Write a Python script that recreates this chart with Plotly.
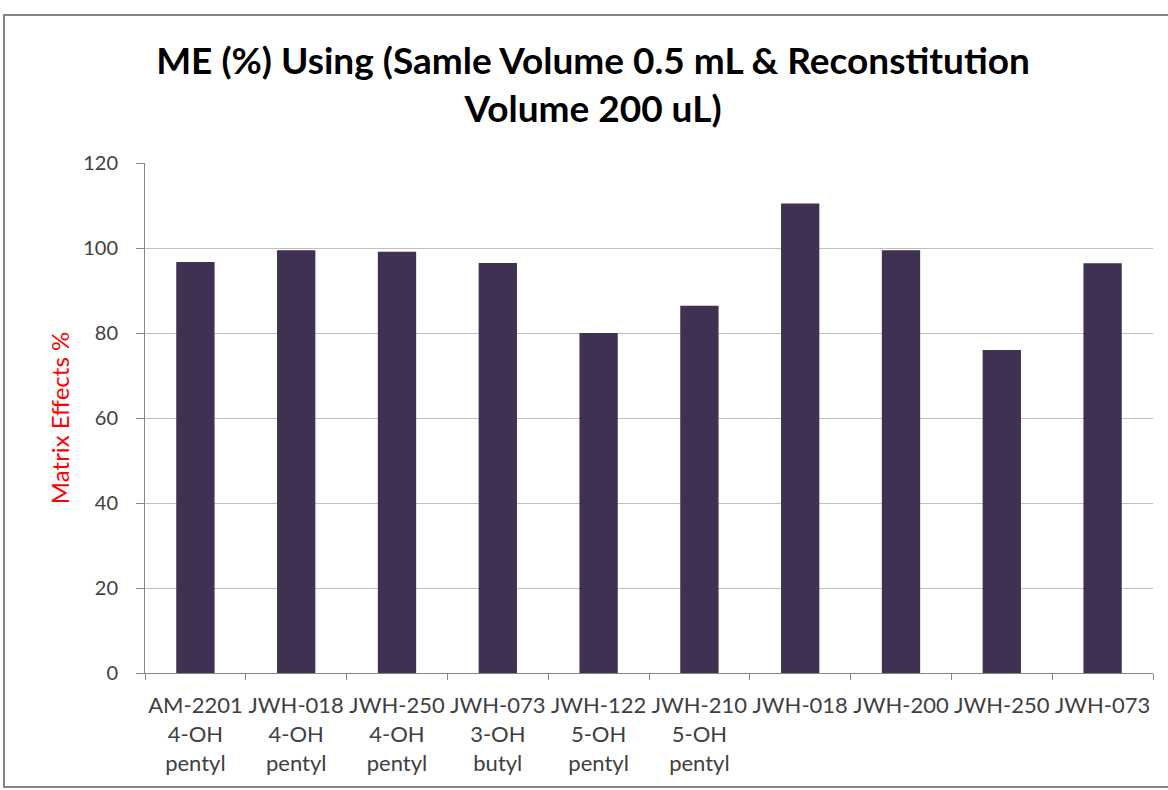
import plotly.graph_objects as go

# Matrix effects (%) per analyte
categories = [
    "AM-2201<br>4-OH<br>pentyl",
    "JWH-018<br>4-OH<br>pentyl",
    "JWH-250<br>4-OH<br>pentyl",
    "JWH-073<br>3-OH<br>butyl",
    "JWH-122<br>5-OH<br>pentyl",
    "JWH-210<br>5-OH<br>pentyl",
    "JWH-018",
    "JWH-200",
    "JWH-250",
    "JWH-073",
]
matrix_effects = [96.7, 99.5, 99.1, 96.5, 80.0, 86.4, 110.5, 99.5, 76.0, 96.4]
y_ticks = [0, 20, 40, 60, 80, 100, 120]

W, H = 1168, 790
L, R, T, B = 145, 15, 163, 117
pw, ph = W - L - R, H - T - B

def px_x(x):
    return (x - L) / pw

def px_y(y):
    return (H - B - y) / ph

FONT = "Lato"

fig = go.Figure(
    go.Bar(
        x=categories,
        y=matrix_effects,
        marker=dict(color="#3f3151", line=dict(width=0)),
    )
)

fig.update_layout(
    width=W,
    height=H,
    margin=dict(l=L, r=R, t=T, b=B),
    paper_bgcolor="white",
    plot_bgcolor="white",
    bargap=0.62,
    showlegend=False,
    font=dict(family=FONT, color="#404040"),
    title=dict(
        text="<b>ME (%) Using (Samle Volume 0.5 mL &amp; Reconstitution<br>Volume 200 uL)</b>",
        x=(593 / W),
        xanchor="center",
        y=1 - 74 / H,
        yanchor="top",
        font=dict(family=FONT, size=37, color="black"),
    ),
    shapes=[
        dict(
            type="rect", xref="paper", yref="paper",
            x0=px_x(4), x1=px_x(1175), y0=px_y(787), y1=px_y(15),
            line=dict(color="#868686", width=2), fillcolor="rgba(0,0,0,0)",
            layer="below",
        ),
    ],
)

fig.update_xaxes(
    type="category",
    showline=True,
    linecolor="#868686",
    linewidth=1,
    ticks="outside",
    tickson="boundaries",
    ticklen=6,
    tickcolor="#868686",
    ticklabelstandoff=13,
    tickfont=dict(family=FONT, size=22, color="#404040"),
    showgrid=False,
    tickangle=0,
)

fig.update_yaxes(
    range=[0, 120],
    tickvals=y_ticks,
    showline=True,
    linecolor="#868686",
    linewidth=1,
    ticks="outside",
    ticklen=8,
    tickcolor="#868686",
    ticklabelstandoff=14,
    showgrid=True,
    gridcolor="#bfbfbf",
    gridwidth=1,
    zeroline=False,
    tickfont=dict(family=FONT, size=20, color="#404040"),
    title=dict(
        text="Matrix Effects %",
        font=dict(family=FONT, size=24, color="#ff0000"),
        standoff=6,
    ),
)

fig.write_html("out.html")
